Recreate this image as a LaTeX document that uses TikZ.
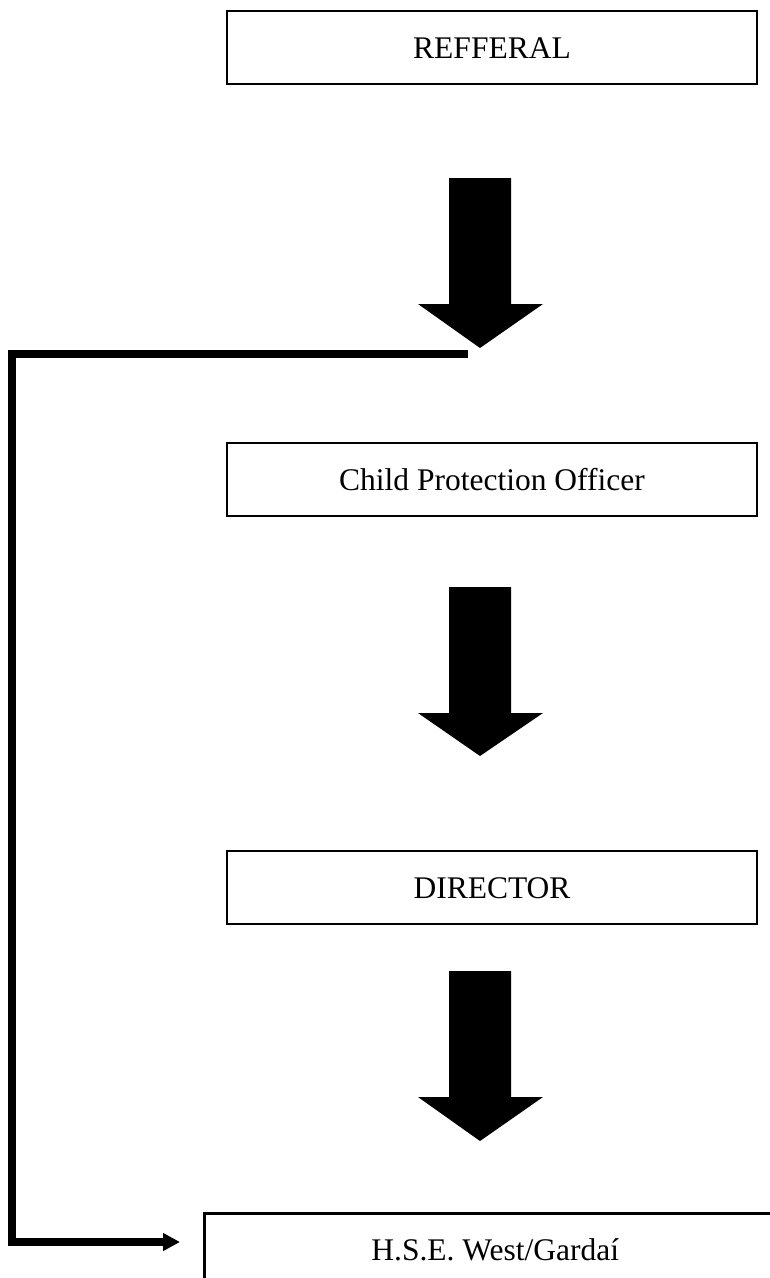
\documentclass[tikz,border=0pt]{standalone}
\usepackage{fontspec}
\setmainfont{Liberation Serif}
\usetikzlibrary{arrows.meta}

\begin{document}
\begin{tikzpicture}[x=1pt,y=-1pt,
    stage/.style={draw,line width=2.5pt,minimum width=530pt,minimum height=73pt,
      inner sep=0pt,font=\fontsize{31.5}{36}\selectfont,text height=21pt,text depth=0pt},
    feed/.style={line width=8pt,line join=miter,-{Triangle[length=17pt,width=17pt]}}]
    \useasboundingbox (0,0) rectangle (770,1278);
    \clip (0,0) rectangle (770,1278);
    % boxes
    \node[stage] (refferal) at (492,47.5) {REFFERAL};
    \node[stage] (officer) at (492,479.5) {Child Protection Officer};
    \node[stage] (director) at (492,887.5) {DIRECTOR};
    \node[stage,anchor=north west,minimum width=582pt,minimum height=0pt,
      inner ysep=26pt,text depth=60pt] (hse) at (203,1212) {H.S.E. West/Gardaí};
    % block arrows
    \fill (449,178) -- (511,178) -- (511,304) -- (543,304) -- (480,348)
      -- (418,304) -- (449,304) -- cycle;
    \fill (449,587) -- (511,587) -- (511,713) -- (543,713) -- (480,756)
      -- (418,713) -- (449,713) -- cycle;
    \fill (449,971) -- (511,971) -- (511,1097) -- (543,1097) -- (480,1141)
      -- (418,1097) -- (449,1097) -- cycle;
    % side route straight to the HSE
    \coordinate (split) at (468,354);
    \coordinate (hsein) at (180,1242);
    \draw[feed] (split) -- ++(-456,0) |- (hsein);
\end{tikzpicture}
\end{document}
